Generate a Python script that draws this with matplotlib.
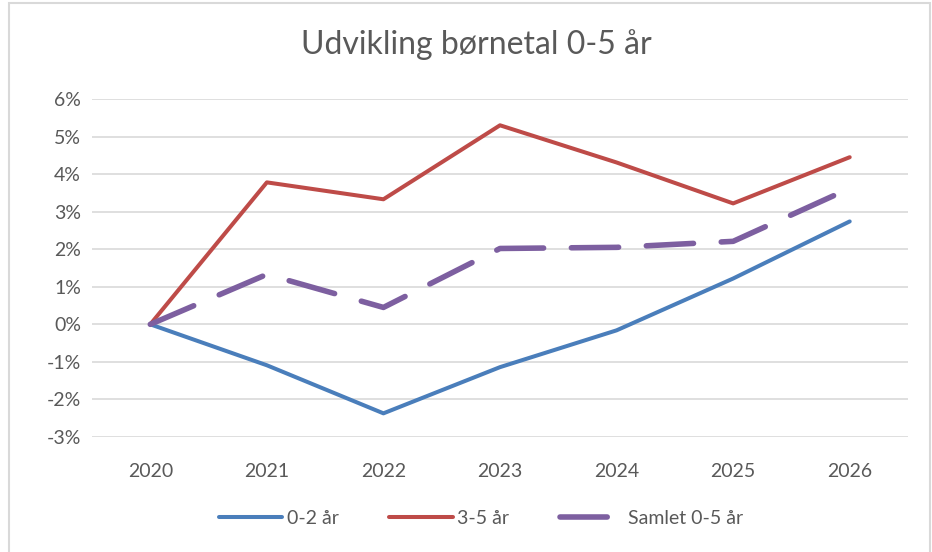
import matplotlib
matplotlib.use("Agg")
import matplotlib.pyplot as plt
from matplotlib.patches import Rectangle
from matplotlib.ticker import FuncFormatter

plt.rcParams['font.family'] = ['Lato', 'DejaVu Sans']

years = ['2020', '2021', '2022', '2023', '2024', '2025', '2026']
born_0_2 = [0.0, -1.09, -2.37, -1.14, -0.16, 1.22, 2.74]
born_3_5 = [0.0, 3.78, 3.33, 5.30, 4.31, 3.22, 4.45]
samlet = [0.0, 1.33, 0.45, 2.02, 2.05, 2.21, 3.62]
y_ticks = [-3, -2, -1, 0, 1, 2, 3, 4, 5, 6]

fig = plt.figure(figsize=(9.32, 5.52), dpi=100)
# chart border
fig.patches.append(Rectangle((9 / 932, -0.01), 921 / 932, 1 - 3 / 552 + 0.01,
                             transform=fig.transFigure, fill=False,
                             edgecolor='#d9d9d9', linewidth=1.5))

ax = fig.add_axes([92 / 932, 1 - 437 / 552, (908 - 92) / 932, (437 - 99) / 552])

x = range(len(years))
ax.plot(x, born_0_2, color='#4a7ebb', linewidth=2.9, label='0-2 år', solid_capstyle='round')
ax.plot(x, born_3_5, color='#be4b48', linewidth=2.9, label='3-5 år', solid_capstyle='round')
ax.plot(x, samlet, color='#7d5fa0', linewidth=4, label='Samlet 0-5 år',
        dashes=(8.5, 5), dash_capstyle='round')

ax.set_xlim(-0.5, len(years) - 0.5)
ax.set_ylim(-3, 6)
ax.set_yticks(y_ticks)
ax.yaxis.set_major_formatter(FuncFormatter(lambda v, p: f'{v:.0f}%'))
ax.set_xticks(list(x))
ax.set_xticklabels(years)
ax.grid(axis='y', color='#d9d9d9', linewidth=1.2)
ax.set_axisbelow(True)
for s in ax.spines.values():
    s.set_visible(False)
ax.tick_params(axis='both', length=0, labelsize=14, colors='#595959', pad=8)
ax.tick_params(axis='x', pad=19)

fig.text(476 / 932, 1 - 45 / 552, 'Udvikling børnetal 0-5 år', ha='center', va='center',
         fontsize=23, color='#595959')

leg = fig.legend(loc='center', bbox_to_anchor=(481 / 932, 1 - 518 / 552), ncol=3,
                 frameon=False, fontsize=14, handlelength=3.25, columnspacing=2.6,
                 handletextpad=0.25)
# purple legend key shows one dash only
leg.legend_handles[2].set_dashes((8.5, 20))
for t in leg.get_texts():
    t.set_color('#595959')

fig.savefig('out.png', dpi=100)
